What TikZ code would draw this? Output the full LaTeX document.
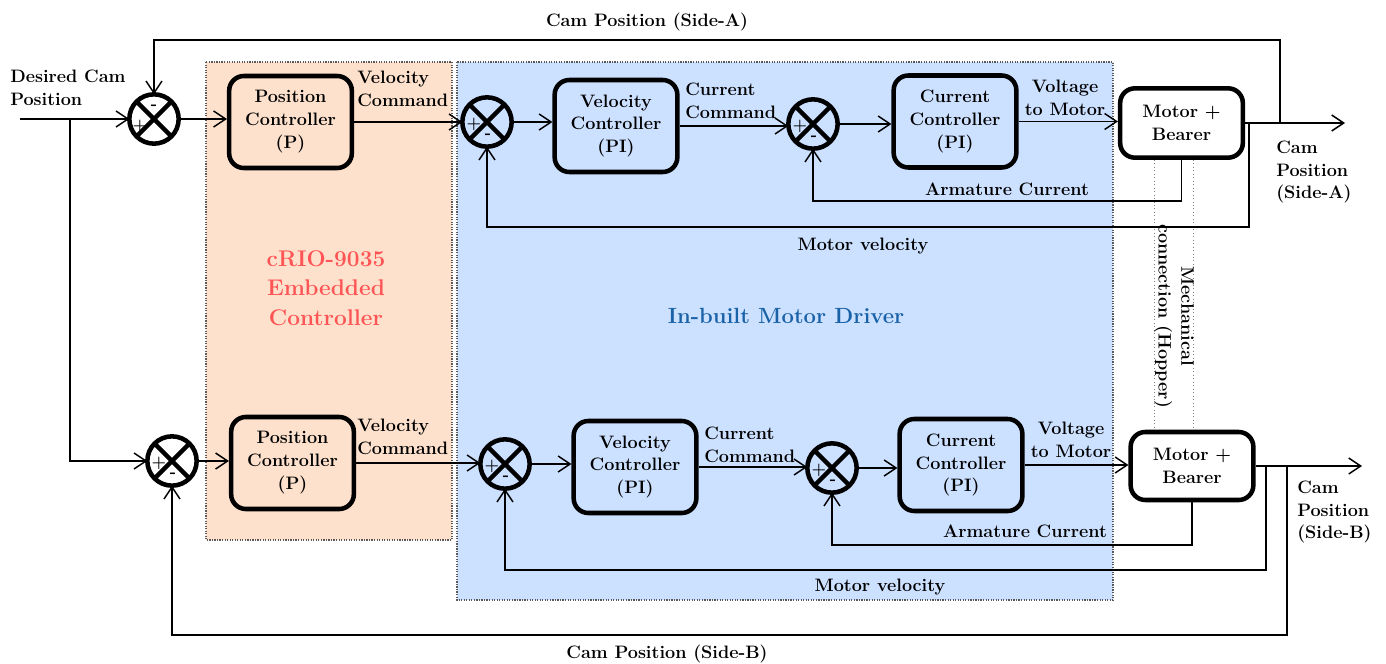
\documentclass[tikz,border=0pt]{standalone}
\usetikzlibrary{arrows.meta,calc}
\definecolor{peach}{HTML}{FDE1CC}
\definecolor{lblue}{HTML}{CCE0FF}
\definecolor{redtxt}{HTML}{FF5555}
\definecolor{bluetxt}{HTML}{1A62A8}
\begin{document}
\begin{tikzpicture}[x=0.75pt,y=-0.75pt,
 font=\fontsize{13.5}{17.2}\selectfont\bfseries,
 blk/.style={draw, line width=3.4pt, rounded corners=11pt, align=center, minimum width=92pt, minimum height=69pt, inner sep=2pt},
 sumj/.style={draw, circle, line width=3.4pt, minimum size=37pt, inner sep=0pt, outer sep=0pt,
   path picture={\draw[line width=3.4pt] (path picture bounding box.north west) -- (path picture bounding box.south east)
                 (path picture bounding box.north east) -- (path picture bounding box.south west);}},
 ln/.style={line width=1.1pt},
 arr/.style={ln, -{Straight Barb[length=9pt,width=12pt]}},
 lbl/.style={inner sep=0pt, align=left},
 region/.style={draw=gray!70!black, densely dotted, line width=0.9pt},
 mech/.style={draw=gray, dotted, line width=0.6pt},
 sgn/.style={inner sep=0pt, font=\fontsize{12.5}{12.5}\selectfont\bfseries}
]
\useasboundingbox (0,0) rectangle (1386,664);
\fill[white] (0,0) rectangle (1386,664);

% regions
\path[region, fill=peach] (206,62) rectangle (452,540);
\path[region, fill=lblue] (457,62) rectangle (1113,600);
\node[text=redtxt, align=center, font=\fontsize{17}{22}\selectfont\bfseries] (crio) at (326,288) {cRIO-9035\\Embedded\\Controller};
\node[text=bluetxt, font=\fontsize{16.5}{22}\selectfont\bfseries] (drv) at (786,316) {In-built Motor Driver};

% ---------- Row A ----------
\node[sumj] (s1) at (154,119) {};
\node[blk, fill=peach] (p1) at (290.5,122) {Position\\Controller\\(P)};
\node[sumj] (s2) at (487,122) {};
\node[blk, fill=lblue] (v1) at (616,126) {Velocity\\Controller\\(PI)};
\node[sumj] (s3) at (813,124) {};
\node[blk, fill=lblue] (c1) at (955,121.5) {Current\\Controller\\(PI)};
\node[blk, fill=white, minimum height=52pt] (m1) at (1181.5,123) {Motor +\\Bearer};

% ---------- Row B ----------
\node[sumj] (s4) at (172,461) {};
\node[blk, fill=peach] (p2) at (292.5,463) {Position\\Controller\\(P)};
\node[sumj] (s5) at (505,464) {};
\node[blk, fill=lblue] (v2) at (635,467) {Velocity\\Controller\\(PI)};
\node[sumj] (s6) at (832,468) {};
\node[blk, fill=lblue] (c2) at (961,465) {Current\\Controller\\(PI)};
\node[blk, fill=white, minimum height=51pt] (m2) at (1192,466) {Motor +\\Bearer};

% signs
\node[sgn] (s1p) at ($(s1)+(-14,7)$) {+};
\node[sgn] (s1m) at ($(s1)+(0,-12)$) {-};
\foreach \s in {s2,s3,s4,s5,s6}{
  \node[sgn] (\s p) at ($(\s)+(-13,2)$) {+};
  \node[sgn] (\s m) at ($(\s)+(1,14)$) {-};
}

% mechanical connection
\coordinate (d1) at (1154,0);
\coordinate (d2) at (1193,0);
\draw[mech] (m1.south -| d1) -- (m2.north -| d1);
\draw[mech] (m1.south -| d2) -- (m2.north -| d2);
\node[rotate=-90, align=center, inner sep=0pt] (mech) at (1174,316) {Mechanical\\connection (Hopper)};

% inputs
\coordinate (inA) at (20,119);
\coordinate (br) at (70,119);
\draw[arr] (inA) -- (s1.west);
\draw[arr] (br) |- (s4.west);
\node[lbl, anchor=west] (dcp) at (10,88) {Desired Cam\\Position};

% forward path A
\draw[arr] (s1.east) -- (s1.east -| p1.west);
\draw[arr] (p1.east) -- (p1.east -| s2.west);
\draw[arr] (s2.east) -- (s2.east -| v1.west);
\draw[arr] (v1.east) -- (v1.east -| s3.west);
\draw[arr] (s3.east) -- (s3.east -| c1.west);
\draw[arr] (c1.east) -- (c1.east -| m1.west);
\coordinate (outA) at (1345,123);
\draw[arr] (m1.east) -- (outA);

% forward path B
\draw[arr] (s4.east) -- (s4.east -| p2.west);
\draw[arr] (p2.east) -- (p2.east -| s5.west);
\draw[arr] (s5.east) -- (s5.east -| v2.west);
\draw[arr] (v2.east) -- (v2.east -| s6.west);
\draw[arr] (s6.east) -- (s6.east -| c2.west);
\draw[arr] (c2.east) -- (c2.east -| m2.west);
\coordinate (outB) at (1362,466);
\draw[arr] (m2.east) -- (outB);

% feedback A
\coordinate (jA) at (1280,123);
\coordinate (fbA) at (1280,40);
\draw[arr] (jA) -- (fbA) -| (s1.north);
\coordinate (jvA) at (1249,123);
\coordinate (mvA) at (1249,227);
\draw[arr] (jvA) -- (mvA) -| (s2.south);
\coordinate (acA) at (0,201);
\draw[arr] (m1.south) -- (m1.south |- acA) -| (s3.south);

% feedback B
\coordinate (jB) at (1287,466);
\coordinate (fbB) at (1287,635);
\draw[arr] (jB) -- (fbB) -| (s4.south);
\coordinate (jvB) at (1266,466);
\coordinate (mvB) at (1266,570);
\draw[arr] (jvB) -- (mvB) -| (s5.south);
\coordinate (acB) at (0,545);
\draw[arr] (m2.south) -- (m2.south |- acB) -| (s6.south);

% labels A
\node[lbl, anchor=west] (vcA) at (357,89) {Velocity\\Command};
\node[lbl, anchor=west] (ccA) at (685,101) {Current\\Command};
\node[lbl, align=center] (vmA) at (1065,98) {Voltage\\to Motor};
\node[lbl, anchor=west] (cpA) at (1276,172) {Cam\\Position\\(Side-A)};
\node[lbl] (cptA) at (647,22) {Cam Position (Side-A)};
\node[lbl] (arA) at (1007,189) {Armature Current};
\node[lbl] (mvlA) at (863,246) {Motor velocity};

% labels B
\node[lbl, anchor=west] (vcB) at (357,437) {Velocity\\Command};
\node[lbl, anchor=west] (ccB) at (704,445) {Current\\Command};
\node[lbl, align=center] (vmB) at (1071,440) {Voltage\\to Motor};
\node[lbl, anchor=west] (cpB) at (1297,512) {Cam\\Position\\(Side-B)};
\node[lbl] (cptB) at (667,654) {Cam Position (Side-B)};
\node[lbl] (arB) at (1025,531) {Armature Current};
\node[lbl] (mvlB) at (880,587) {Motor velocity};
\end{tikzpicture}
\end{document}
